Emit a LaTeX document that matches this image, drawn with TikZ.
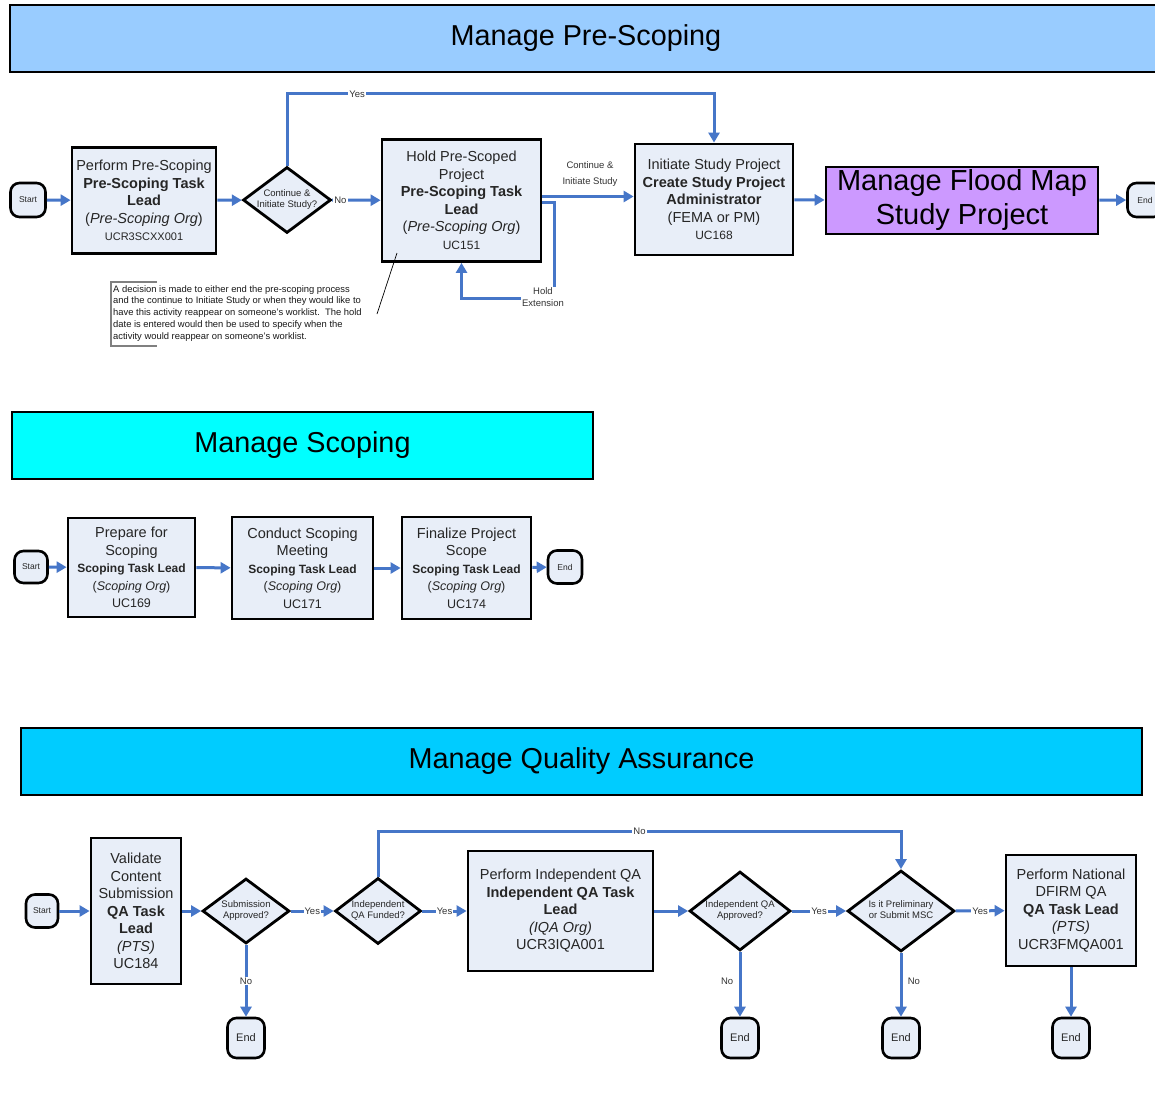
\documentclass[tikz,border=0pt]{standalone}
\usepackage{fontspec}
\setmainfont{Liberation Sans}
\usetikzlibrary{shapes.geometric,arrows.meta}
\definecolor{flowc}{RGB}{70,118,200}
\definecolor{boxfill}{RGB}{232,238,248}
\definecolor{tblue}{RGB}{153,204,255}
\definecolor{tcyan}{RGB}{0,255,255}
\definecolor{tsky}{RGB}{0,204,255}
\definecolor{violetbox}{RGB}{204,153,255}
\newcommand\dtext[1]{\makebox[0pt]{\smash{\raisebox{-2pt}{\begin{tabular}[c]{@{}c@{}}#1\end{tabular}}}}}
\newcommand\fs[2]{\fontsize{#1}{#2}\selectfont}
\begin{document}
\begin{tikzpicture}[x=1pt,y=-1pt,
  box/.style={draw=black, line width=2.8pt, fill=boxfill, align=center, inner sep=1pt,
    font=\fs{14.5}{17.5}, text=black!85},
  term/.style={draw=black, line width=2.6pt, fill=boxfill, rounded corners=9pt,
    minimum width=35pt, minimum height=34pt, inner sep=0pt, font=\fs{8.5}{9}, text=black!85},
  dec/.style={diamond, draw=black, line width=2.8pt, fill=boxfill, inner sep=0pt,
    font=\fs{9.5}{11.5}, text=black!85},
  flow/.style={draw=flowc, line width=3pt, -{Triangle[length=10pt,width=11pt]}},
  lbl/.style={fill=white, inner sep=1pt, font=\fs{9.5}{10}, text=black!80},
  ttl/.style={draw=black, line width=2.4pt, minimum height=67pt, inner sep=0pt, font=\fs{28.8}{30}}
]
\useasboundingbox (0,0) rectangle (1155,1097);
\fill[white] (0,0) rectangle (1155,1097);

% ---------------- Titles ----------------
\node[ttl, fill=tblue, minimum width=1152pt] (t1) at (586,38.5) {Manage Pre-Scoping};
\node[ttl, fill=tcyan, minimum width=581pt] (t2) at (302.5,445.5) {Manage Scoping};
\node[ttl, fill=tsky, minimum width=1121pt] (t3) at (581.5,761.5) {Manage Quality Assurance};

% ---------------- Pre-Scoping ----------------
\node[term] (st1) at (28,200) {Start};
\node[box, minimum width=144pt, minimum height=106pt] (b1) at (144,200.5)
  {Perform Pre-Scoping\\ \textbf{Pre-Scoping Task}\\ \textbf{Lead}\\ (\textit{Pre-Scoping Org})\\ {\fs{11}{13}UCR3SCXX001}};
\node[dec, minimum width=88pt, minimum height=66pt] (d1) at (287,200) {\dtext{Continue \&\\Initiate Study?}};
\node[box, minimum width=159pt, minimum height=122pt] (b2) at (461.5,200.5)
  {Hold Pre-Scoped\\ Project\\ \textbf{Pre-Scoping Task}\\ \textbf{Lead}\\ (\textit{Pre-Scoping Org})\\ {\fs{12}{14}UC151}};
\node[box, minimum width=158pt, minimum height=111pt] (b3) at (714,199.5)
  {Initiate Study Project\\ \textbf{Create Study Project}\\ \textbf{Administrator}\\ (FEMA or PM)\\ {\fs{12}{14}UC168}};
\node[box, fill=violetbox, text=black, minimum width=272pt, minimum height=67pt, font=\fs{29}{34}] (b4) at (962,200.5)
  {Manage Flood Map\\Study Project};
\node[term] (en1) at (1145,200) {End};

\draw[flow] (st1) -- (b1);
\draw[flow] (b1) -- (d1);
\draw[flow] (d1) -- node[lbl, pos=0.17] {No} (b2);
\coordinate (yc) at (714,94);
\draw[flow] (d1.north) |- node[lbl, pos=0.582] {Yes} (yc) -- (b3.north);
\draw[flow] ([yshift=4pt]b2.east) -- ([yshift=4pt]b2.east -| b3.west);
\node[font=\fs{9.5}{16}, align=center, text=black!80] (ci) at (590,174) {Continue \&\\Initiate Study};
\draw[flow] ([yshift=-2pt]b2.east) -- ++(12,0) |- ([yshift=-36pt]b2.south) -- (b2.south);
\node[lbl, align=center, font=\fs{9.5}{11.5}] (hx) at (543,297) {Hold\\Extension};
\draw[flow] (b3) -- (b4);
\draw[flow] (b4) -- (en1);

% annotation
\node[anchor=north west, align=left, inner sep=0pt, font=\fs{9.4}{11.8}, text=black!90] (note) at (113,285)
  {A decision is made to either end the pre-scoping process\\
   and the continue to Initiate Study or when they would like to\\
   have this activity reappear on someone's worklist.\ \ The hold\\
   date is entered would then be used to specify when the\\
   activity would reappear on someone's worklist.};
\draw[gray, line width=1.2pt] (157,282) -- (111,282) -- (111,346) -- (157,346);
\coordinate (n1) at (377,314);
\coordinate (n2) at (397,253);
\draw[black, line width=0.7pt] (n1) -- (n2);

% ---------------- Scoping ----------------
\node[term, minimum width=33pt, minimum height=32pt] (st2) at (31,567) {Start};
\node[box, minimum width=127pt, minimum height=99pt] (s1) at (131.5,567.5)
  {Prepare for\\ Scoping\\ {\fs{12}{16}\textbf{Scoping Task Lead}}\\ {\fs{12.5}{15}(\textit{Scoping Org})}\\ {\fs{12.5}{15}UC169}};
\node[box, minimum width=141pt, minimum height=102pt] (s2) at (302.5,568)
  {Conduct Scoping\\ Meeting\\ {\fs{12}{16}\textbf{Scoping Task Lead}}\\ {\fs{12.5}{15}(\textit{Scoping Org})}\\ {\fs{12.5}{15}UC171}};
\node[box, minimum width=129pt, minimum height=102pt] (s3) at (466.5,568)
  {Finalize Project\\ Scope\\ {\fs{12}{16}\textbf{Scoping Task Lead}}\\ {\fs{12.5}{15}(\textit{Scoping Org})}\\ {\fs{12.5}{15}UC174}};
\node[term, minimum width=34pt, minimum height=33pt] (en2) at (565,567) {End};
\draw[flow] (st2) -- (s1);
\draw[flow] (s1) -- (s2);
\draw[flow] (s2) -- (s3);
\draw[flow] (s3) -- (en2);

% ---------------- Quality Assurance ----------------
\node[term, minimum width=32pt, minimum height=33pt] (st3) at (42,911) {Start};
\node[box, minimum width=90pt, minimum height=146pt] (q1) at (136,911)
  {Validate\\ Content\\ Submission\\ \textbf{QA Task}\\ \textbf{Lead}\\ \textit{(PTS)}\\ UC184};
\node[dec, minimum width=87pt, minimum height=65pt] (dq1) at (246,911) {\dtext{Submission\\Approved?}};
\node[dec, minimum width=86pt, minimum height=66pt] (dq2) at (378,911) {\dtext{Independent\\QA Funded?}};
\node[box, minimum width=185pt, minimum height=120pt] (q2) at (560.5,911)
  {Perform Independent QA\\ \textbf{Independent QA Task}\\ \textbf{Lead}\\ \textit{(IQA Org)}\\ UCR3IQA001};
\node[dec, minimum width=101pt, minimum height=79pt] (dq3) at (740,911) {\dtext{Independent QA\\Approved?}};
\node[dec, minimum width=107pt, minimum height=81pt] (dq4) at (901,911) {\dtext{Is it Preliminary\\or Submit MSC}};
\node[box, minimum width=130pt, minimum height=111pt] (q3) at (1071,910.5)
  {Perform National\\ DFIRM QA\\ \textbf{QA Task Lead}\\ \textit{(PTS)}\\ UCR3FMQA001};
\node[term, minimum width=37pt, minimum height=40pt, font=\fs{11}{12}] (e1) at (246,1038) {End};
\node[term, minimum width=37pt, minimum height=40pt, font=\fs{11}{12}] (e2) at (740,1038) {End};
\node[term, minimum width=37pt, minimum height=40pt, font=\fs{11}{12}] (e3) at (901,1038) {End};
\node[term, minimum width=37pt, minimum height=40pt, font=\fs{11}{12}] (e4) at (1071,1038) {End};

\draw[flow] (st3) -- (q1);
\draw[flow] (q1) -- (dq1);
\draw[flow] (dq1) -- node[lbl] {Yes} (dq2);
\draw[flow] (dq2) -- node[lbl] {Yes} (q2);
\coordinate (qn) at (901,831);
\draw[flow] (dq2.north) |- node[lbl, pos=0.75] {No} (qn) -- (dq4.north);
\draw[flow] (q2) -- (dq3);
\draw[flow] (dq3) -- node[lbl] {Yes} (dq4);
\draw[flow] (dq4) -- node[lbl] {Yes} (q3);
\draw[flow] (dq1) -- node[lbl] {No} (e1);
\draw[flow] (dq3) -- node[left, font=\fs{9.5}{10}, text=black!80, pos=0.45, xshift=-2pt] {No} (e2);
\draw[flow] (dq4) -- node[right, font=\fs{9.5}{10}, text=black!80, pos=0.45, xshift=2pt] {No} (e3);
\draw[flow] (q3) -- (e4);
\end{tikzpicture}
\end{document}
